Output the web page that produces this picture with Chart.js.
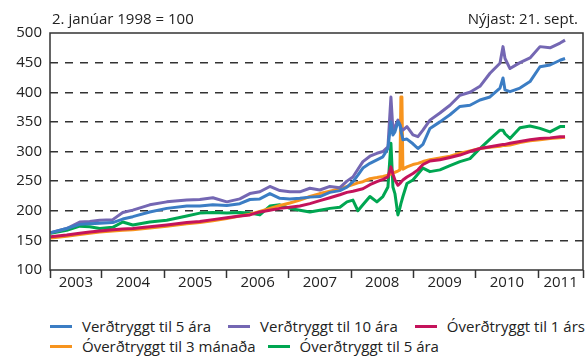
<!DOCTYPE html>
<html>
<head>
<meta charset="utf-8">
<script src="https://cdn.jsdelivr.net/npm/chart.js"></script>
<style>
	body { margin: 0; background: #fff; font-family: "Open Sans", sans-serif; color: #222; }
	#wrap { position: relative; width: 588px; height: 356px; }
	#box { position: absolute; left: 0; top: 0; width: 588px; height: 300px; }
	.note { position: absolute; top: 8px; font-size: 15px; line-height: 20px; white-space: nowrap; }
	#legend { position: absolute; left: 50px; top: 316px; font-size: 15px; line-height: 20px; }
	.row { display: flex; white-space: nowrap; height: 20px; }
	.item { display: flex; align-items: center; }
	.sw { width: 22px; height: 3px; margin-right: 10px; }
</style>
</head>
<body>
<div id="wrap">
	<div id="box"><canvas id="chart"></canvas></div>
	<div class="note" style="left:52px">2. janúar 1998 = 100</div>
	<div class="note" style="right:10px">Nýjast: 21. sept.</div>
	<div id="legend"></div>
</div>
<script>
// dates as decimal years, values index 2. jan 1998 = 100
const dates = [2003.181, 2003.438, 2003.647, 2003.807, 2003.968, 2004.177, 2004.337, 2004.498, 2004.770, 2005.043,
	2005.364, 2005.573, 2005.782, 2006.006, 2006.215, 2006.376, 2006.536, 2006.697, 2006.857, 2007.018,
	2007.178, 2007.339, 2007.499, 2007.660, 2007.820, 2007.933, 2008.029, 2008.109, 2008.189, 2008.302,
	2008.414, 2008.510, 2008.591, 2008.639, 2008.671, 2008.703, 2008.751, 2008.783, 2008.799, 2008.815,
	2008.831, 2008.896, 2008.992, 2009.072, 2009.152, 2009.265, 2009.425, 2009.586, 2009.746, 2009.907,
	2010.067, 2010.228, 2010.388, 2010.437, 2010.469, 2010.549, 2010.709, 2010.870, 2011.030, 2011.191,
	2011.352, 2011.432];

const verd5 = [163, 170, 177, 178, 179, 180, 186, 190, 198, 204,
	208, 208, 210, 209, 212, 219, 220, 229, 221, 220,
	221, 223, 224, 231, 234, 240, 249, 260, 272, 280,
	286, 291, 305, 350, 328, 333, 350, 345, 335, 328,
	320, 321, 313, 305, 312, 339, 350, 362, 376, 378,
	387, 392, 407, 424, 404, 401, 407, 418, 443, 446,
	454, 457];

const verd10 = [163, 170, 181, 182, 184, 185, 197, 201, 210, 215,
	218, 219, 222, 215, 220, 229, 232, 241, 234, 232,
	232, 238, 235, 241, 239, 250, 257, 270, 283, 292,
	297, 300, 308, 392, 336, 342, 353, 345, 340, 338,
	336, 342, 328, 325, 336, 353, 365, 378, 395, 400,
	410, 432, 449, 477, 457, 440, 450, 458, 477, 475,
	483, 488];

const over1 = [156, 159, 162, 164, 166, 168, 169, 170, 173, 176,
	180, 182, 185, 188, 191, 193, 198, 201, 204, 206,
	208, 212, 217, 222, 227, 231, 233, 235, 237, 244,
	249, 253, 257, 274, 262, 252, 243, 246, 248, 250,
	252, 257, 263, 269, 278, 284, 286, 290, 294, 300,
	305, 308, 311, 312, 312, 314, 317, 320, 322, 323,
	325, 325];

const over3m = [154, 157, 160, 162, 164, 166, 167, 168, 171, 174,
	178, 180, 183, 187, 191, 194, 199, 204, 209, 213,
	218, 224, 229, 233, 237, 241, 244, 247, 249, 254,
	256, 258, 260, 262, 264, 265, 267, 269, 392, 392,
	270, 274, 278, 280, 283, 286, 289, 292, 297, 301,
	305, 307, 309, 310, 310, 311, 315, 318, 320, 322,
	323, 324];

const over5 = [162, 167, 174, 173, 170, 172, 181, 176, 181, 184,
	191, 196, 197, 196, 197, 196, 193, 208, 210, 204,
	201, 198, 201, 204, 206, 215, 218, 200, 210, 224,
	215, 224, 240, 314, 240, 229, 193, 205, 212, 218,
	224, 246, 252, 262, 272, 266, 269, 276, 283, 288,
	305, 321, 336, 336, 330, 322, 340, 343, 339, 333,
	342, 342];

const seriesNames = ["Verðtryggt til 5 ára", "Verðtryggt til 10 ára", "Óverðtryggt til 1 árs",
	"Óverðtryggt til 3 mánaða", "Óverðtryggt til 5 ára"];
const seriesColors = ["#3b7dc4", "#7467b3", "#c4135b", "#f7941e", "#00a651"];
const seriesValues = [verd5, verd10, over1, over3m, over5];

const yearLabels = ["2003", "2004", "2005", "2006", "2007", "2008", "2009", "2010", "2011"];
const yearStarts = [2004, 2005, 2006, 2007, 2008, 2009, 2010, 2011];
const xMin = 2003.17, xMax = 2011.72;

// year boundaries get a tick mark, the labels sit in the middle of each year
let bounds = [xMin].concat(yearStarts, [xMax]);
let centers = [];
for (let i = 0; i < bounds.length - 1; i++) {
	centers.push((bounds[i] + bounds[i + 1]) / 2);
}

const frame = {
	id: "frame",
	afterDraw(chart) {
		const a = chart.chartArea, c = chart.ctx;
		c.save();
		c.strokeStyle = "#333";
		c.lineWidth = 1.5;
		c.strokeRect(a.left, a.top, a.right - a.left, a.bottom - a.top);
		c.restore();
	}
};

let datasets = seriesValues.map(function (vals, i) {
	return {
		label: seriesNames[i],
		data: vals.map(function (v, j) { return { x: dates[j], y: v }; }),
		borderColor: seriesColors[i],
		borderWidth: 3,
		pointRadius: 0,
		tension: 0,
		borderJoinStyle: "round"
	};
});

const font = { family: "'Open Sans', sans-serif", size: 15 };

new Chart(document.getElementById("chart"), {
	type: "line",
	data: { datasets: datasets },
	options: {
		responsive: true,
		maintainAspectRatio: false,
		animation: false,
		layout: { padding: { top: 33, right: 5, left: 0, bottom: 0 } },
		plugins: { legend: { display: false }, tooltip: { enabled: false } },
		scales: {
			x: {
				type: "linear",
				min: xMin,
				max: xMax,
				afterBuildTicks: function (scale) {
					scale.ticks = bounds.concat(centers).sort(function (a, b) { return a - b; })
						.map(function (v) { return { value: v }; });
				},
				afterFit: function (scale) { scale.height = 30; },
				ticks: {
					autoSkip: false,
					maxRotation: 0,
					padding: -4,
					color: "#222",
					font: font,
					callback: function (value) {
						let k = centers.indexOf(value);
						return k >= 0 ? yearLabels[k] : "";
					}
				},
				grid: {
					drawOnChartArea: false,
					tickLength: 8,
					tickWidth: 1.5,
					tickColor: function (ctx) {
						return ctx.tick && centers.indexOf(ctx.tick.value) >= 0 ? "rgba(0,0,0,0)" : "#333";
					}
				},
				border: { display: false }
			},
			y: {
				min: 100,
				max: 500,
				afterFit: function (scale) { scale.width = 50; },
				ticks: { stepSize: 50, padding: 8, color: "#222", font: font },
				grid: {
					drawTicks: false,
					lineWidth: 1.5,
					color: function (ctx) {
						return ctx.tick && (ctx.tick.value === 100 || ctx.tick.value === 500) ? "rgba(0,0,0,0)" : "#333";
					}
				},
				border: { display: false, dash: [8, 7] }
			}
		}
	},
	plugins: [frame]
});

// legend in two rows, as in the original
let rows = [[0, 1, 2], [3, 4]], gaps = [17, 12];
let legendEl = document.getElementById("legend");
rows.forEach(function (r, ri) {
	let row = document.createElement("div");
	row.className = "row";
	r.forEach(function (i, k) {
		let item = document.createElement("div");
		item.className = "item";
		if (k > 0) item.style.marginLeft = gaps[ri] + "px";
		item.innerHTML = '<span class="sw" style="background:' + seriesColors[i] + '"></span><span>' + seriesNames[i] + "</span>";
		row.appendChild(item);
	});
	legendEl.appendChild(row);
});
</script>
</body>
</html>
